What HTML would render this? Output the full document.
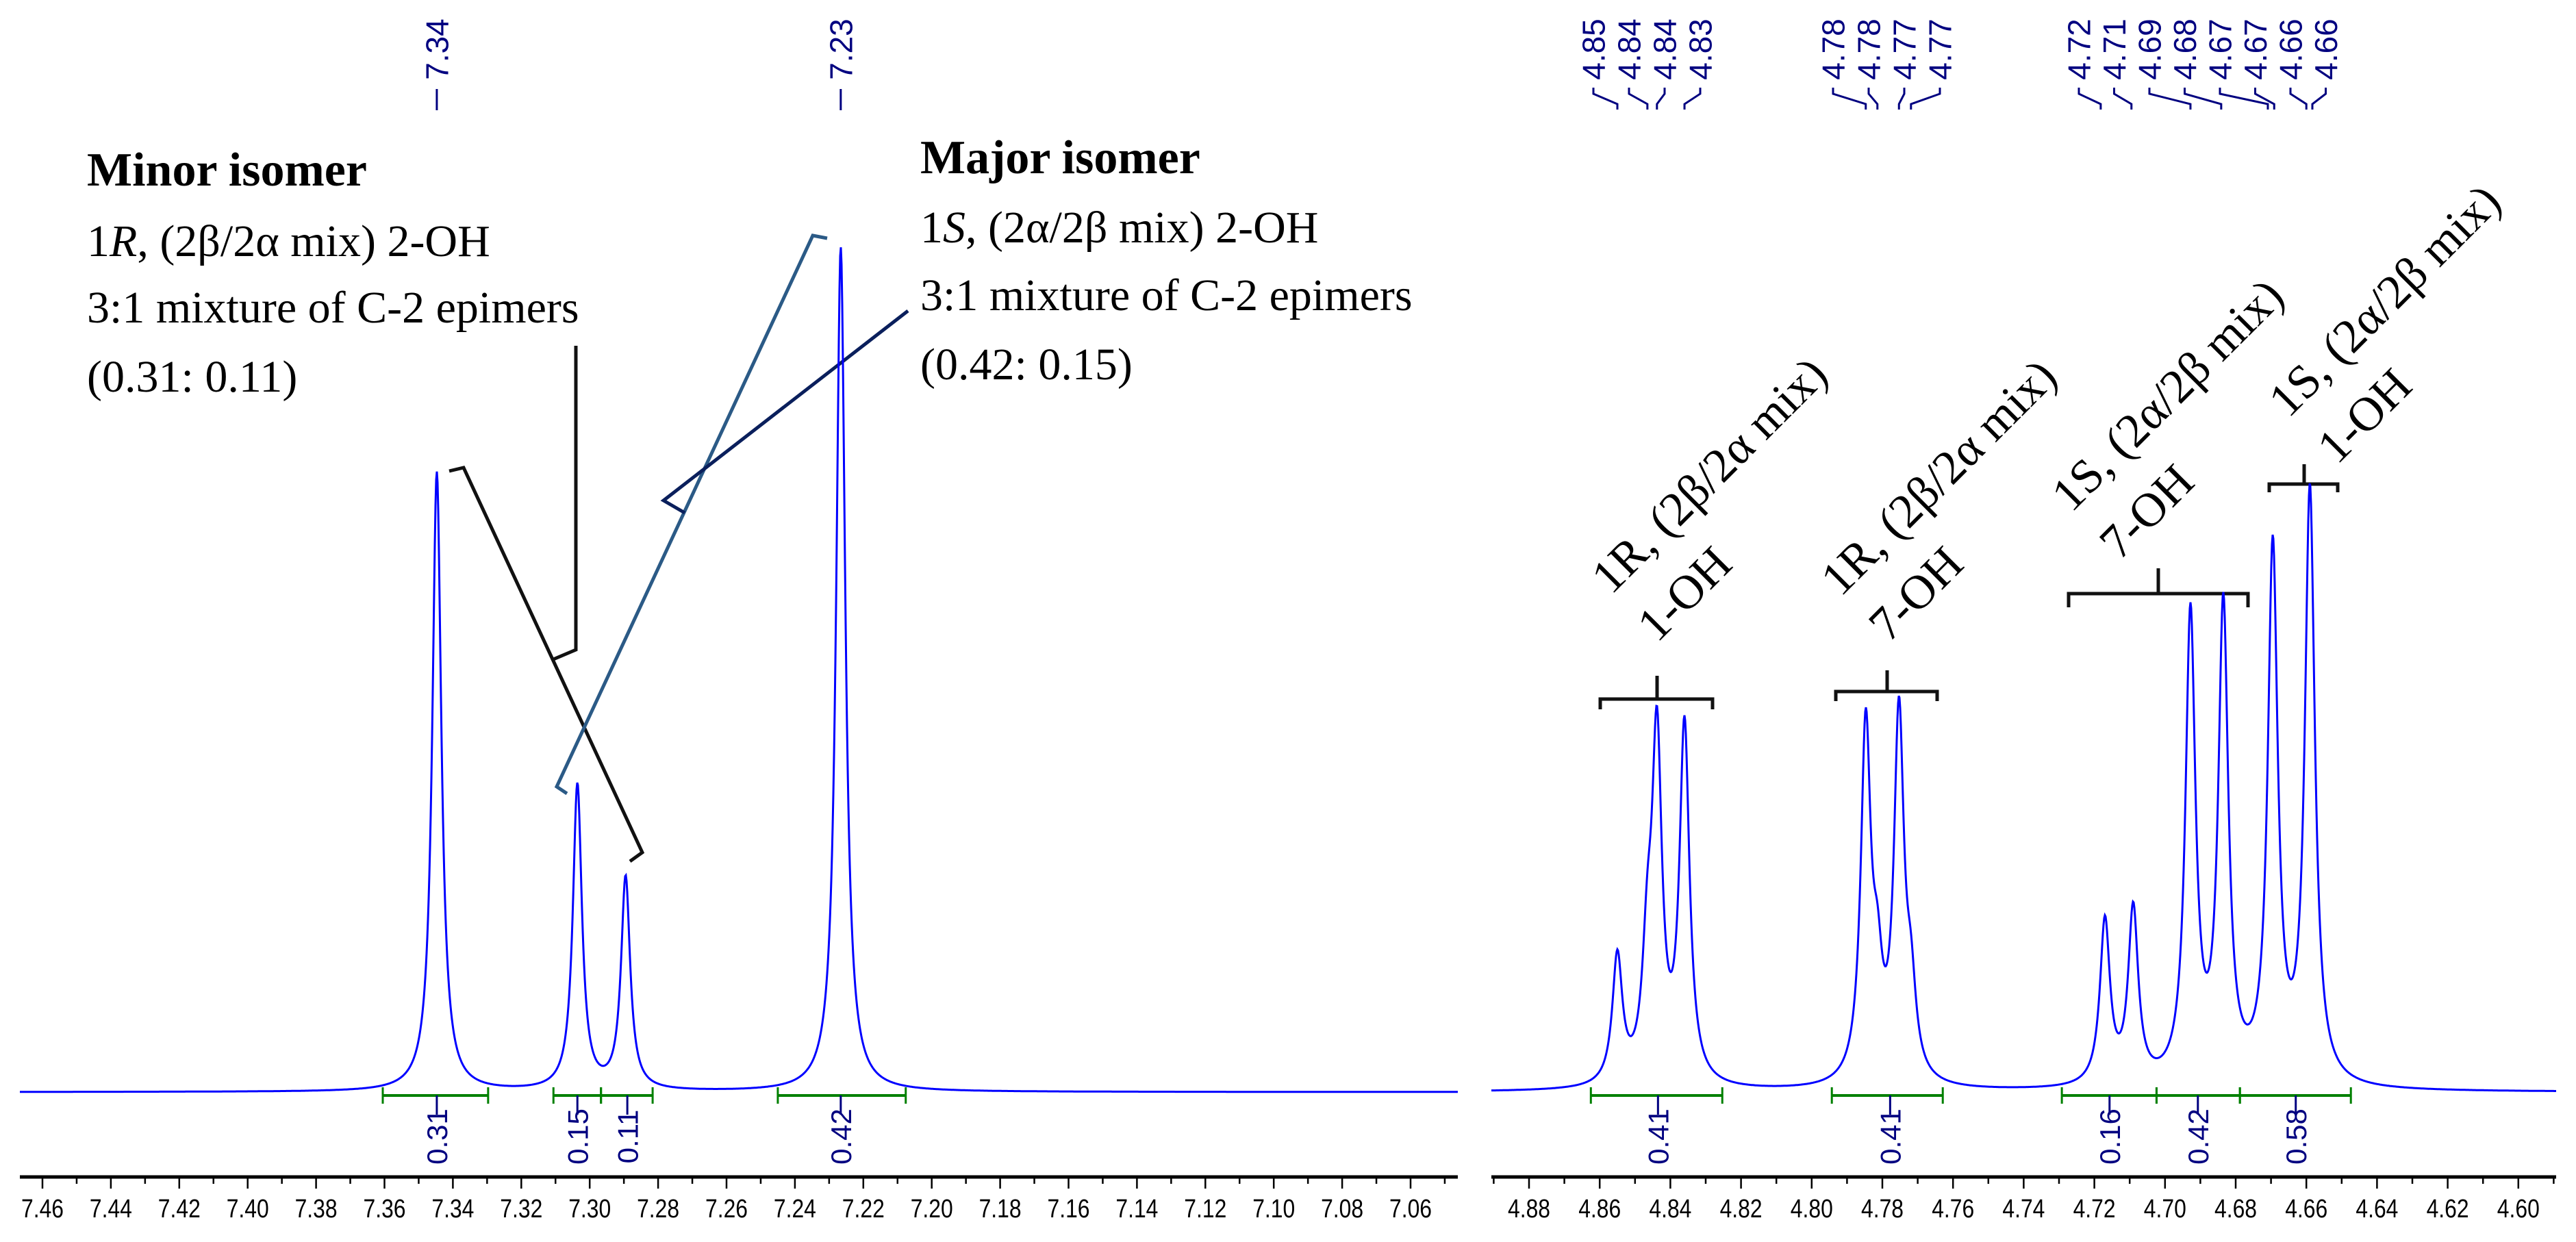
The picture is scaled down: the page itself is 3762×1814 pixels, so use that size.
<!DOCTYPE html>
<html><head><meta charset="utf-8"><style>
html,body{margin:0;padding:0;background:#fff;}
svg{display:block;}
</style></head><body>
<svg id="chart" xmlns="http://www.w3.org/2000/svg" width="3762" height="1814" viewBox="0 0 3762 1814">
<rect width="3762" height="1814" fill="#fff"/>
<g id="annot" font-family="Liberation Serif, serif" fill="#000">
  <text x="127" y="271" font-size="70" font-weight="bold">Minor isomer</text>
  <text x="127" y="374" font-size="66">1<tspan font-style="italic">R</tspan>, (2β/2α mix) 2-OH</text>
  <text x="127" y="471" font-size="66">3:1 mixture of C-2 epimers</text>
  <text x="127" y="572" font-size="66">(0.31: 0.11)</text>
  <text x="1344" y="253" font-size="70" font-weight="bold">Major isomer</text>
  <text x="1344" y="354" font-size="66">1<tspan font-style="italic">S</tspan>, (2α/2β mix) 2-OH</text>
  <text x="1344" y="453" font-size="66">3:1 mixture of C-2 epimers</text>
  <text x="1344" y="554" font-size="66">(0.42: 0.15)</text>

  <polyline points="656,688 677,683 938,1245 920,1258" fill="none" stroke="#111" stroke-width="5"/>
  <polyline points="808,963 841,949 841,505" fill="none" stroke="#111" stroke-width="5"/>
  <polyline points="1208,348 1187,344 813,1149 828,1159" fill="none" stroke="#2b5a86" stroke-width="5"/>
  <polyline points="1000,749 969,731 1326,454" fill="none" stroke="#0a1f5c" stroke-width="5"/>

  <g fill="none" stroke="#111" stroke-width="5">
    <polyline points="2337,1036 2337,1021 2501,1021 2501,1036"/><line x1="2420" y1="1021" x2="2420" y2="987"/>
    <polyline points="2681,1024 2681,1010 2829,1010 2829,1024"/><line x1="2756" y1="1010" x2="2756" y2="979"/>
    <polyline points="3021,887 3021,867 3283,867 3283,887"/><line x1="3152" y1="867" x2="3152" y2="830"/>
    <polyline points="3314,719 3314,707 3414,707 3414,719"/><line x1="3365" y1="707" x2="3365" y2="678"/>
  </g>
  <g font-size="70">
    <text transform="translate(2353,870) rotate(-45)">1R, (2β/2α mix)</text>
    <text transform="translate(2420,940) rotate(-45)">1-OH</text>
    <text transform="translate(2688,873) rotate(-45)">1R, (2β/2α mix)</text>
    <text transform="translate(2758,940) rotate(-45)">7-OH</text>
    <text transform="translate(3025,750) rotate(-45)">1S, (2α/2β mix)</text>
    <text transform="translate(3095,820) rotate(-45)">7-OH</text>
    <text transform="translate(3342,612) rotate(-45)">1S, (2α/2β mix)</text>
    <text transform="translate(3413,680) rotate(-45)">1-OH</text>
  </g>
</g>
<g id="plot"></g>
</svg>
<script>
// ---- data ----
const leftPeakPpm = [7.3447, 7.3036, 7.2895, 7.2266];
const leftPeakInt = [0.73, 0.36, 0.25, 0.995];
const rightPeakPpm = [4.855, 4.8465, 4.8438, 4.836, 4.7847, 4.7814, 4.7753, 4.7719, 4.717, 4.709, 4.6928, 4.6835, 4.6695, 4.659];
const rightPeakInt = [0.15, 0.13, 0.395, 0.42, 0.415, 0.10, 0.427, 0.09, 0.193, 0.205, 0.55, 0.557, 0.627, 0.697];
const leftTicks = [7.46,7.44,7.42,7.40,7.38,7.36,7.34,7.32,7.30,7.28,7.26,7.24,7.22,7.20,7.18,7.16,7.14,7.12,7.10,7.08,7.06];
const rightTicks = [4.88,4.86,4.84,4.82,4.80,4.78,4.76,4.74,4.72,4.70,4.68,4.66,4.64,4.62,4.60];
const leftPeakLabels = [7.34, 7.23];
const leftPeakLabelPpm = [7.3447, 7.2266];
const rightPeakLabels = ["4.85","4.84","4.84","4.83","4.78","4.78","4.77","4.77","4.72","4.71","4.69","4.68","4.67","4.67","4.66","4.66"];
const rightPeakLabelPpm = [4.855,4.8465,4.8438,4.836,4.7847,4.7814,4.7753,4.7719,4.7182,4.7095,4.6928,4.6841,4.6709,4.6691,4.660,4.6583];
const leftIntegrals = [[7.3605,7.3297],[7.3106,7.2967],[7.2967,7.2816],[7.2450,7.2076]];
const leftIntegralValues = ["0.31","0.15","0.11","0.42"];
const leftIntegralMark = [7.3447,7.3036,7.2890,7.2266];
const rightIntegrals = [[4.8625,4.8253],[4.7943,4.7629],[4.7292,4.7024],[4.7024,4.6788],[4.6788,4.6474]];
const rightIntegralValues = ["0.41","0.41","0.16","0.42","0.58"];
const rightIntegralMark = [4.8435,4.7778,4.7157,4.6907,4.6630];

// ---- scales ----
const NS = "http://www.w3.org/2000/svg";
const BASE = 1595, YPX = 1240;
const xL = p => 62 + (7.46 - p) * 4995;
const xR = p => 2233 + (4.88 - p) * 5160;
const y = v => BASE - v * YPX;
const plot = document.getElementById('plot');
function mk(tag, attrs, parent){ const e=document.createElementNS(NS,tag); for(const k in attrs) e.setAttribute(k,attrs[k]); (parent||plot).appendChild(e); return e; }

function spectrum(ppmArr, intArr, gamma, xs, x0, x1, name){
  let d = "";
  for(let px=x0; px<=x1; px+=1){
    const p = (xs===xL) ? 7.46 - (px-62)/4995 : 4.88 - (px-2233)/5160;
    let v = 0;
    for(let i=0;i<ppmArr.length;i++){ const dd=(p-ppmArr[i])/gamma; v += intArr[i]/(1+dd*dd); }
    d += (px===x0?"M":"L") + px + "," + y(v).toFixed(1);
  }
  const path = mk('path',{d:d,fill:'none',stroke:'#0000ff','stroke-width':3});
  
  
}
spectrum(leftPeakPpm, leftPeakInt, 0.0016, xL, 29, 2129, 'spectrum-trace-left');
spectrum(rightPeakPpm, rightPeakInt, 0.0017, xR, 2178, 3733, 'spectrum-trace-right');

function axis(ticks, xs, x0, x1, name, lo, hi){
  const g = mk('g',{});
  
  
  mk('line',{x1:x0,y1:1719,x2:x1,y2:1719,stroke:'#000','stroke-width':5},g);
  for(let k=Math.round(hi*100); k>=Math.round(lo*100); k--){
    const p=k/100, xx=xs(p);
    if(xx<x0-1||xx>x1+1) continue;
    const major = (k%2===0);
    mk('line',{x1:xx,y1:1719,x2:xx,y2:major?1736:1729,stroke:'#000','stroke-width':2.5},g);
  }
  ticks.forEach(t=>{
    const tx = mk('text',{x:xs(t),y:1778,'font-family':'Liberation Sans, sans-serif','font-size':38,'text-anchor':'middle',textLength:62,lengthAdjust:'spacingAndGlyphs',fill:'#000'},g);
    tx.textContent = t.toFixed(2);
    
    
  });
}
axis(leftTicks, xL, 29, 2129, 'x-axis-left', 7.05, 7.47);
axis(rightTicks, xR, 2178, 3733, 'x-axis-right', 4.59, 4.89);

function vtext(x, yc, str, name, fs){
  const t = mk('text',{transform:`translate(${x},${yc}) rotate(-90)`,'font-family':'Liberation Sans, sans-serif','font-size':fs,'text-anchor':'middle',dy:'0.36em',fill:'#000080'});
  t.textContent = str;
  
  
}
leftPeakLabels.forEach((lab,i)=>{
  const xx = xL(leftPeakLabelPpm[i]);
  vtext(xx, 72, lab.toFixed(2), 'peak-label', 46);
  const l = mk('line',{x1:xx,y1:130,x2:xx,y2:161,stroke:'#000080','stroke-width':3});
  
  
});
const groupStart = [0,4,8], groupX0 = [2327,2677,3036], groupStep = [52,52,51.5];
rightPeakLabels.forEach((lab,i)=>{
  let g = i<4?0:(i<8?1:2);
  const lx = groupX0[g] + (i-groupStart[g])*groupStep[g];
  vtext(lx, 72, lab, 'peak-label', 46);
  const px = xR(rightPeakLabelPpm[i]);
  const c = mk('polyline',{points:`${lx},128 ${lx},137 ${px},152 ${px},160`,fill:'none',stroke:'#000080','stroke-width':3});
  
  
});
function integrals(ranges, vals, marks, xs){
  ranges.forEach((r,i)=>{
    const a=xs(r[0]), b=xs(r[1]);
    const g = mk('g',{});
    
    
    mk('line',{x1:a,y1:1600,x2:b,y2:1600,stroke:'#008000','stroke-width':4},g);
    mk('line',{x1:a,y1:1588,x2:a,y2:1612,stroke:'#008000','stroke-width':3},g);
    mk('line',{x1:b,y1:1588,x2:b,y2:1612,stroke:'#008000','stroke-width':3},g);
    const m = xs(marks[i]);
    mk('line',{x1:m,y1:1600,x2:m,y2:1628,stroke:'#000080','stroke-width':3},g);
    vtext(m, 1660, vals[i], 'integral-value', 42);
  });
}
integrals(leftIntegrals, leftIntegralValues, leftIntegralMark, xL);
integrals(rightIntegrals, rightIntegralValues, rightIntegralMark, xR);
</script>
</body></html>
